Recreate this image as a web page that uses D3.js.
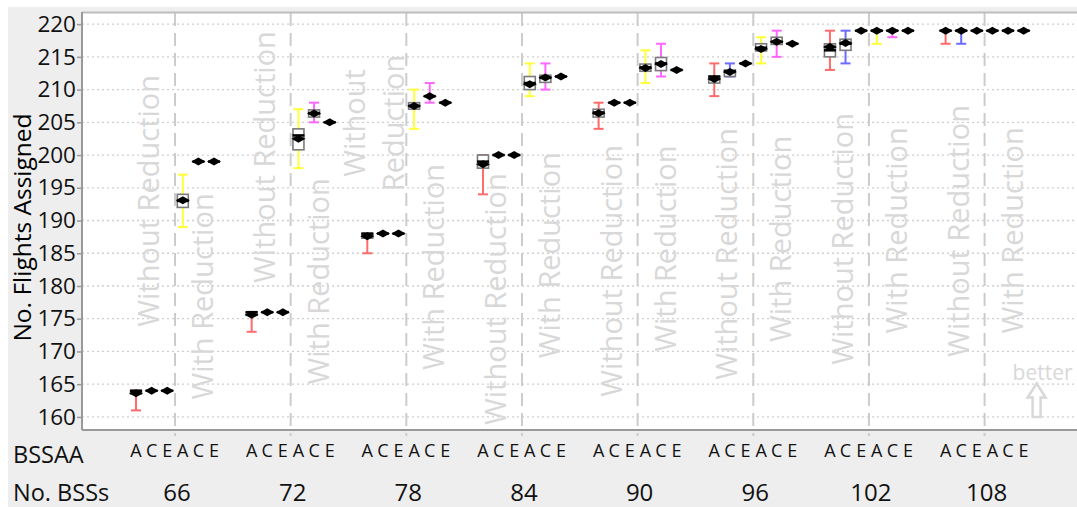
<!DOCTYPE html>
<html>
<head>
<meta charset="utf-8">
<script src="https://cdn.jsdelivr.net/npm/d3@7"></script>
<style>
body{margin:0;background:#fff;}
svg{display:block;font-family:'Open Sans',sans-serif;}
</style>
</head>
<body>
<div id="chart"></div>
<script>
const groups=[66,72,78,84,90,96,102,108]
const slots=['A','C','E','A','C','E']
// one entry per group: [min, q1, median, mean, q3, max]
const withoutA=[[161,163.5,164,163.6,164,164],[173,175.5,176,175.6,176,176],[185,187.3,188,187.6,188,188],[194,198,199,198.6,200,200],
	[204,205.8,206.5,206.4,207,208],[209,211,212,211.6,212,214],[213,215,216,216.5,217,219],[217,219,219,219,219,219]]
const withoutC=[[164,164,164,164,164,164],[176,176,176,176,176,176],[188,188,188,188,188,188],[200,200,200,200,200,200],
	[208,208,208,208,208,208],[212,212,212.8,212.7,213,214],[214,216,217,217.1,217.7,219],[217,219,219,219,219,219]]
const withoutE=[[164,164,164,164,164,164],[176,176,176,176,176,176],[188,188,188,188,188,188],[200,200,200,200,200,200],
	[208,208,208,208,208,208],[214,214,214,214,214,214],[219,219,219,219,219,219],[219,219,219,219,219,219]]
const withA=[[189,192,193,193.1,194,197],[198,200.8,203,202.5,204,207],[204,207,207.5,207.5,208,210],[209,210,211,210.8,212,214],
	[211,212.8,213.4,213.3,213.9,216],[214,215.9,216.4,216.2,217,218],[217,219,219,219,219,219],[219,219,219,219,219,219]]
const withC=[[199,199,199,199,199,199],[205,205.8,206.4,206.35,206.9,208],[208,209,209,209,209,211],[210,211.1,211.8,211.85,212.2,214],
	[212,212.9,214,213.9,214.9,217],[215,216.9,217.3,217.3,218,219],[218,219,219,219,219,219],[219,219,219,219,219,219]]
const withE=[[199,199,199,199,199,199],[205,205,205,205,205,205],[208,208,208,208,208,208],[212,212,212,212,212,212],
	[213,213,213,213,213,213],[217,217,217,217,217,217],[219,219,219,219,219,219],[219,219,219,219,219,219]]
const series=[withoutA,withoutC,withoutE,withA,withC,withE]
const yTicks=[160,165,170,175,180,185,190,195,200,205,210,215,220]
// vertical centre (in flights) of the faint rotated group labels
const labelWithoutY=[193,199.7,204.9,178,182.3,184.9,187.2,188.4]
const labelWithY=[178.4,180.7,182.9,184.7,185.7,187.2,188.5,188.5]

const whiskerColors=['#ff6b6b','#6b6bff','#999','#ffff3c','#ff66ff','#999']
const W=1077,H=507
const margin={top:13,right:0,bottom:77,left:82}
const faint='#d8d8d8'

const svg=d3.select('#chart').append('svg')
	.attr('width',W)
	.attr('height',H)

svg.append('rect')
	.attr('x',8).attr('y',7)
	.attr('width',W-8).attr('height',H-7)
	.attr('fill','#eeeeee')
svg.append('rect')
	.attr('x',margin.left).attr('y',margin.top)
	.attr('width',W-margin.left-margin.right)
	.attr('height',H-margin.top-margin.bottom)
	.attr('fill','#fff')

const yScale=d3.scaleLinear()
	.domain([158,221.7])
	.range([H-margin.bottom,margin.top])
const xScale=d3.scalePoint()
	.domain(groups)
	.range([175,984.6])
const slotScale=d3.scaleBand()
	.domain(d3.range(6))
	.range([-46.8,46.8])
const cx=(g,s)=>xScale(g)+slotScale(s)+slotScale.bandwidth()/2

// horizontal dotted grid
svg.append('g').selectAll('line')
	.data(yTicks)
	.join('line')
	.attr('x1',margin.left).attr('x2',W)
	.attr('y1',d=>yScale(d)).attr('y2',d=>yScale(d))
	.attr('stroke','#cfcfcf')
	.attr('stroke-width',1.3)
	.attr('stroke-dasharray','2,3')

// dashed separators
svg.append('g').selectAll('line')
	.data(groups)
	.join('line')
	.attr('x1',d=>xScale(d)).attr('x2',d=>xScale(d))
	.attr('y1',margin.top).attr('y2',H-margin.bottom+6)
	.attr('stroke','#cccccc')
	.attr('stroke-width',2)
	.attr('stroke-dasharray','13,7')

// faint rotated labels
const labels=svg.append('g')
	.attr('fill',faint)
	.attr('font-size',29)
	.attr('text-anchor','middle')
groups.forEach((g,i)=>{
	const t=labels.append('text')
		.attr('transform',`translate(${xScale(g)-26},${yScale(labelWithoutY[i])}) rotate(-90)`)
	if(g===78){
		t.attr('transform',`translate(${xScale(g)-32},${yScale(labelWithoutY[i])}) rotate(-90)`)
		t.append('tspan').attr('x',0).attr('dy','-0.32em').text('Without')
		t.append('tspan').attr('x',0).attr('dy','1.34em').text('Reduction')
	}else{
		t.attr('dy','0.35em').text('Without Reduction')
	}
	labels.append('text')
		.attr('transform',`translate(${xScale(g)+28},${yScale(labelWithY[i])}) rotate(-90)`)
		.attr('dy','0.35em')
		.text('With Reduction')
})

// better arrow
const bx=xScale(108)+52
svg.append('text')
	.attr('x',bx+6).attr('y',yScale(165.6))
	.attr('text-anchor','middle')
	.attr('font-size',21)
	.attr('fill',faint)
	.text('better')
const aTop=yScale(165.1),aBot=yScale(160),aMid=aTop+14
svg.append('path')
	.attr('d',`M${bx},${aTop} L${bx+9},${aMid} L${bx+4},${aMid} L${bx+4},${aBot} L${bx-4},${aBot} L${bx-4},${aMid} L${bx-9},${aMid} Z`)
	.attr('fill','none')
	.attr('stroke',faint)
	.attr('stroke-width',2.5)

// top border + axes lines
svg.append('line')
	.attr('x1',margin.left).attr('x2',W)
	.attr('y1',margin.top-0.5).attr('y2',margin.top-0.5)
	.attr('stroke','#bdbdbd').attr('stroke-width',2)
svg.append('line')
	.attr('x1',margin.left).attr('x2',W)
	.attr('y1',H-margin.bottom).attr('y2',H-margin.bottom)
	.attr('stroke','#999').attr('stroke-width',2)
svg.append('line')
	.attr('x1',margin.left).attr('x2',margin.left)
	.attr('y1',margin.top-1).attr('y2',H-margin.bottom)
	.attr('stroke','#999').attr('stroke-width',2)

const yAxis=d3.axisLeft(yScale)
	.tickValues(yTicks)
	.tickSize(5)
	.tickPadding(1)
const ya=svg.append('g')
	.attr('transform',`translate(${margin.left},0)`)
	.call(yAxis)
ya.select('.domain').remove()
ya.selectAll('.tick line').attr('stroke','#999').attr('stroke-width',1.5)
ya.selectAll('.tick text')
	.attr('font-size',22.5)
	.attr('font-family','Open Sans')
	.attr('fill','#111')

svg.append('text')
	.attr('transform',`translate(31,${(margin.top+H-margin.bottom)/2+6}) rotate(-90)`)
	.attr('text-anchor','middle')
	.attr('font-size',24.5)
	.attr('fill','#000')
	.text('No. Flights Assigned')

// box plots
const marks=svg.append('g')
series.forEach((s,si)=>{
	s.forEach((d,gi)=>{
		const x=cx(groups[gi],si)
		const g=marks.append('g')
		if(d[0]<d[5]){
			g.append('line')
				.attr('x1',x).attr('x2',x)
				.attr('y1',yScale(d[0])).attr('y2',yScale(d[5]))
				.attr('stroke',whiskerColors[si]).attr('stroke-width',2)
			;[d[0],d[5]].forEach(v=>{
				g.append('line')
					.attr('x1',x-5).attr('x2',x+5)
					.attr('y1',yScale(v)).attr('y2',yScale(v))
					.attr('stroke',whiskerColors[si]).attr('stroke-width',2)
			})
		}
		if(d[1]<d[4]){
			g.append('rect')
				.attr('x',x-5.5).attr('width',11)
				.attr('y',yScale(d[4]))
				.attr('height',yScale(d[1])-yScale(d[4]))
				.attr('fill','#fff')
				.attr('stroke','#7a7a7a')
				.attr('stroke-width',1.6)
		}
		g.append('line')
			.attr('x1',x-6).attr('x2',x+6)
			.attr('y1',yScale(d[2])).attr('y2',yScale(d[2]))
			.attr('stroke','#000').attr('stroke-width',2.5)
		const my=yScale(d[3])
		g.append('path')
			.attr('d',`M${x-7},${my} L${x},${my-4} L${x+7},${my} L${x},${my+4} Z`)
			.attr('fill','#000')
	})
})

// bottom rows
const bottom=svg.append('g').attr('fill','#111')
bottom.append('text')
	.attr('x',13).attr('y',463)
	.attr('font-size',23.5)
	.text('BSSAA')
bottom.append('text')
	.attr('x',13).attr('y',501)
	.attr('font-size',23.5)
	.text('No. BSSs')
groups.forEach(g=>{
	slots.forEach((s,si)=>{
		bottom.append('text')
			.attr('x',cx(g,si)).attr('y',457)
			.attr('text-anchor','middle')
			.attr('font-size',18)
			.text(s)
	})
	bottom.append('text')
		.attr('x',xScale(g)+2).attr('y',501)
		.attr('text-anchor','middle')
		.attr('font-size',24)
		.text(g)
})
</script>
</body>
</html>
